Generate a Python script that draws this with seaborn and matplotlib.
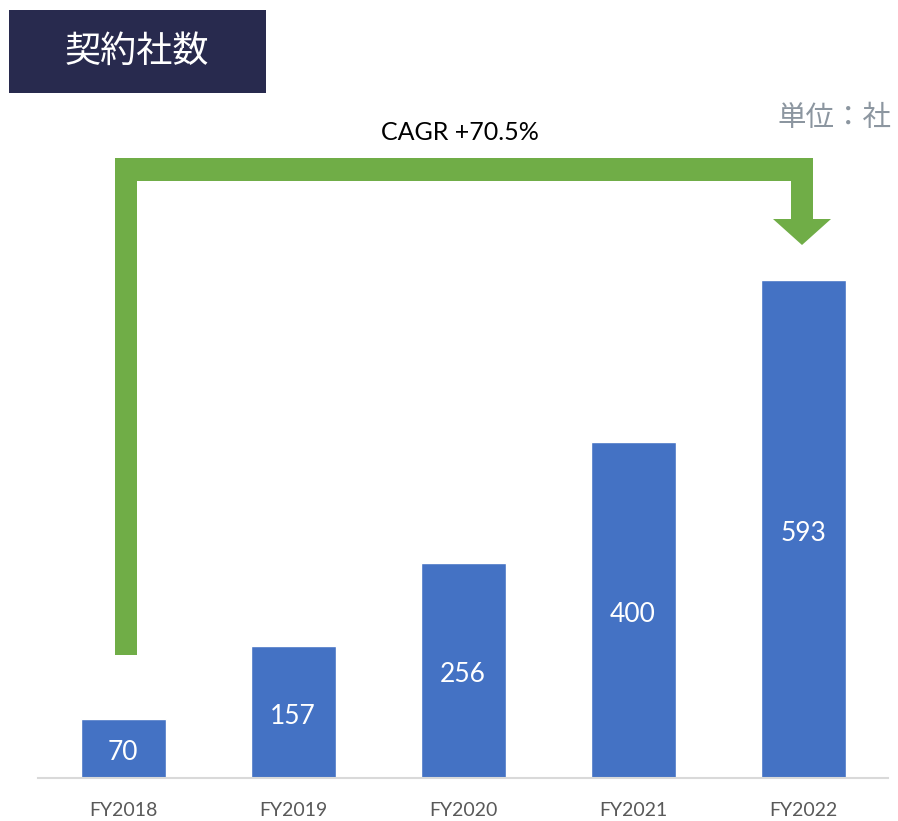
import matplotlib
matplotlib.use("Agg")
import matplotlib.pyplot as plt
import seaborn as sns
import pandas as pd
from matplotlib.patches import Rectangle, Polygon

categories = ["FY2018", "FY2019", "FY2020", "FY2021", "FY2022"]
values = [70, 157, 256, 400, 593]
title_text = "契約社数"
unit_text = "単位：社"
cagr_text = "CAGR +70.5%"

sns.set_theme(style="white")
plt.rcParams['font.family'] = ['Lato', 'Noto Sans CJK JP', 'DejaVu Sans']

W, H = 898, 821
fig = plt.figure(figsize=(W / 100, H / 100), dpi=100)
fig.patch.set_facecolor("white")

def fx(x):
    return x / W

def fy(y):
    return 1 - y / H

ax_top = 100
ax_bottom = 778
ax = fig.add_axes([fx(38), fy(ax_bottom), (888 - 38) / W, (ax_bottom - ax_top) / H])

df = pd.DataFrame({"cat": categories, "val": values})
sns.barplot(data=df, x="cat", y="val", color="#4472C4", saturation=1, width=0.5, ax=ax)
ax.set_xlim(-0.5, 4.5)
ax.set_ylim(0, (ax_bottom - ax_top) / 0.84)
ax.set_xlabel("")
ax.set_ylabel("")
ax.set_yticks([])
for s in ["top", "left", "right"]:
    ax.spines[s].set_visible(False)
ax.spines["bottom"].set_color("#D9D9D9")
ax.spines["bottom"].set_linewidth(1.5)
ax.tick_params(axis="x", length=0, pad=17, labelsize=14, labelcolor="#595959")
ax.set_facecolor("none")

for c in ax.containers:
    texts = ax.bar_label(c, labels=[str(v) for v in values], label_type="center",
                         color="white", fontsize=19)
    for t in texts:
        t.set_y(-3)
        t.set_transform(t.get_transform() + matplotlib.transforms.ScaledTranslation(0, -3 / 100, fig.dpi_scale_trans))

# Title box
fig.patches.append(Rectangle((fx(9), fy(93)), fx(266) - fx(9), fy(10) - fy(93),
                             transform=fig.transFigure, facecolor="#282A4E",
                             edgecolor="none"))
fig.text(fx(137), fy(52), title_text, ha="center", va="center", color="white",
         fontsize=26, family=["Noto Sans CJK JP", "DejaVu Sans"])

fig.text(fx(891), fy(118), unit_text, ha="right", va="center", color="#8C96A0",
         fontsize=20.5, family=["Noto Sans CJK JP", "DejaVu Sans"])

fig.text(fx(460), fy(132), cagr_text, ha="center", va="center", color="black",
         fontsize=18)

pts = [(115, 655), (115, 158), (813, 158), (813, 219), (831, 219), (802, 245),
       (773, 219), (791, 219), (791, 181), (137, 181), (137, 655)]
fig.patches.append(Polygon([(fx(x), fy(y)) for x, y in pts], closed=True,
                           transform=fig.transFigure, facecolor="#70AD47",
                           edgecolor="none"))

fig.savefig("out.png", dpi=100)
